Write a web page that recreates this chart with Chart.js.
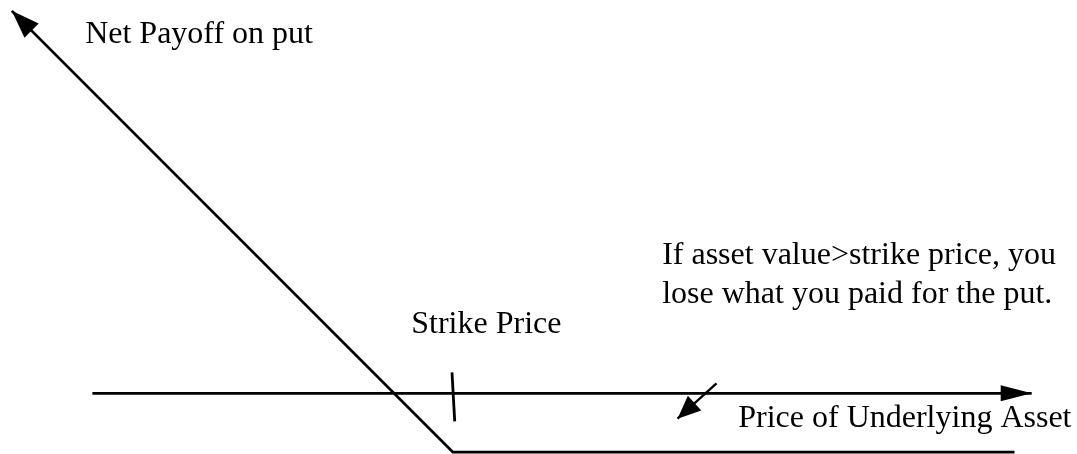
<!DOCTYPE html>
<html>
<head>
<meta charset="utf-8">
<script src="https://cdn.jsdelivr.net/npm/chart.js@4"></script>
<style>
  html, body { margin: 0; padding: 0; background: #fff; }
  #wrap { width: 1077px; height: 454px; }
</style>
</head>
<body>
<div id="wrap"><canvas id="myChart" width="1077" height="454"></canvas></div>
<script>
// net payoff on a put: price of underlying vs payoff
var payoffPrices = [1.3, 50, 112];
var payoffValues = [42.2, -6.5, -6.5];

// price axis drawn as its own line
var axisPrices = [10.2, 113.9];
var axisValues = [0, 0];

// little mark at the strike
var strikeX = [49.9, 50.2];
var strikeY = [2.3, -3.1];

// pointer from the note to the flat part
var noteX = [79.1, 74.8];
var noteY = [1.1, -2.8];

var labelTexts = ["Net Payoff on put", "Strike Price", "If asset value>strike price, you", "lose what you paid for the put.", "Price of Underlying Asset"];
var labelX = [9.4, 45.4, 73.1, 73.1, 81.5];
var labelY = [38.6, 6.7, 14.3, 10.0, -3.75];

function toPoints(xs, ys) {
  return xs.map(function (x, i) { return { x: x, y: ys[i] }; });
}

var arrowPlugin = {
  id: "arrows",
  afterDatasetsDraw: function (chart) {
    var ctx = chart.ctx;
    chart.data.datasets.forEach(function (ds, i) {
      if (!ds.arrowAt) return;
      var pts = chart.getDatasetMeta(i).data;
      var tip, from;
      if (ds.arrowAt === "start") { tip = pts[0]; from = pts[1]; }
      else { tip = pts[pts.length - 1]; from = pts[pts.length - 2]; }
      var ang = Math.atan2(tip.y - from.y, tip.x - from.x);
      var len = ds.arrowLen, half = ds.arrowHalf;
      ctx.save();
      ctx.fillStyle = "#000";
      ctx.beginPath();
      ctx.moveTo(tip.x, tip.y);
      ctx.lineTo(tip.x - len * Math.cos(ang) + half * Math.sin(ang), tip.y - len * Math.sin(ang) - half * Math.cos(ang));
      ctx.lineTo(tip.x - len * Math.cos(ang) - half * Math.sin(ang), tip.y - len * Math.sin(ang) + half * Math.cos(ang));
      ctx.closePath();
      ctx.fill();
      ctx.restore();
    });
  }
};

var labelPlugin = {
  id: "labels",
  afterDraw: function (chart) {
    var ctx = chart.ctx;
    var xs = chart.scales.x, ys = chart.scales.y;
    ctx.save();
    ctx.fillStyle = "#000";
    ctx.font = "32px 'Times New Roman', 'Liberation Serif', serif";
    ctx.textBaseline = "alphabetic";
    ctx.textAlign = "left";
    labelTexts.forEach(function (t, i) {
      ctx.fillText(t, xs.getPixelForValue(labelX[i]), ys.getPixelForValue(labelY[i]));
    });
    ctx.restore();
  }
};

new Chart("myChart", {
  type: "scatter",
  data: {
    datasets: [
      { data: toPoints(payoffPrices, payoffValues), borderWidth: 2.8, arrowAt: "start", arrowLen: 28, arrowHalf: 10 },
      { data: toPoints(axisPrices, axisValues), borderWidth: 2.8, arrowAt: "end", arrowLen: 31, arrowHalf: 8 },
      { data: toPoints(strikeX, strikeY), borderWidth: 2.8 },
      { data: toPoints(noteX, noteY), borderWidth: 2.3, arrowAt: "end", arrowLen: 23, arrowHalf: 10 }
    ].map(function (d) {
      d.showLine = true;
      d.borderColor = "#000";
      d.backgroundColor = "#000";
      d.pointRadius = 0;
      d.tension = 0;
      return d;
    })
  },
  options: {
    responsive: false,
    animation: false,
    layout: { padding: 0 },
    plugins: { legend: { display: false }, tooltip: { enabled: false } },
    scales: {
      x: { type: "linear", display: false, min: 0, max: 118.9 },
      y: { type: "linear", display: false, min: -6.7, max: 43.4 }
    }
  },
  plugins: [arrowPlugin, labelPlugin]
});
</script>
</body>
</html>
